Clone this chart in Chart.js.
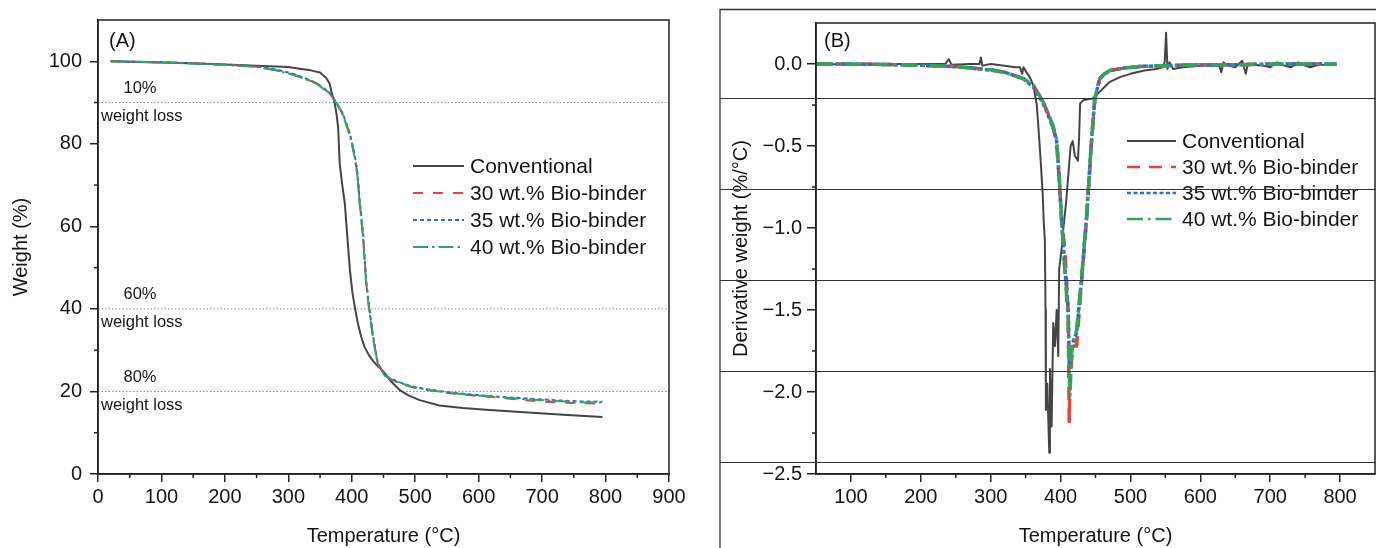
<!DOCTYPE html>
<html>
<head>
<meta charset="utf-8">
<script src="https://cdn.jsdelivr.net/npm/chart.js@4.4.1/dist/chart.umd.min.js"></script>
<style>
  html, body { margin: 0; padding: 0; background: #fff; }
  #wrap { position: relative; width: 1376px; height: 548px; overflow: hidden; }
  #tga { position: absolute; left: 0; top: 0; }
  #dtg { position: absolute; left: 700px; top: 0; }
</style>
</head>
<body>
<div id="wrap">
  <canvas id="tga" width="700" height="548"></canvas>
  <canvas id="dtg" width="676" height="548"></canvas>
</div>
<script>
const seriesNames = ['Conventional', '30 wt.% Bio-binder', '35 wt.% Bio-binder', '40 wt.% Bio-binder'];

// (A) weight vs temperature
const tgaConvTemp = [20, 50, 100, 150, 200, 250, 300, 318, 335, 350, 360, 365, 368, 373, 376, 378.5, 381, 385, 389, 393, 397, 401, 405, 410, 415, 420, 427, 434, 442, 450, 462, 475, 490, 507, 538, 575, 617, 660, 696, 740, 795];
const tgaConvWeight = [100, 99.9, 99.7, 99.5, 99.2, 98.9, 98.6, 98.2, 97.8, 97.3, 95.9, 94.6, 92.7, 89.9, 87.2, 83.9, 75.2, 70, 65.6, 57.5, 49.5, 44, 40.2, 36.2, 33.2, 30.8, 28.8, 27.3, 26, 24.8, 22.4, 20.4, 19.0, 17.9, 16.6, 16.0, 15.5, 15.1, 14.7, 14.3, 13.8];
const tgaBioTemp = [20, 50, 100, 150, 200, 250, 280, 300, 318, 344, 365, 376, 386, 397, 405, 409, 412.6, 417.8, 423, 428, 433.6, 441, 452, 463, 475.6, 493, 512, 538, 565, 600, 633, 665, 696, 730, 760, 795];
const tgaBio30 = [100, 99.9, 99.7, 99.5, 99.2, 98.7, 97.9, 97.2, 96.3, 94.7, 92.3, 89.9, 87.1, 82.3, 76.8, 72.5, 65.6, 57.7, 45.8, 39.4, 33.0, 26.7, 23.9, 22.8, 22.0, 21.1, 20.5, 19.9, 19.4, 18.9, 18.5, 18.0, 17.6, 17.3, 17.2, 17.0];
const tgaBio35 = [100, 99.9, 99.8, 99.5, 99.2, 98.8, 98.0, 97.3, 96.4, 94.8, 92.4, 90.0, 87.3, 82.5, 77.0, 72.8, 66.0, 58.2, 46.3, 39.8, 33.3, 26.9, 24.0, 23.0, 22.2, 21.3, 20.7, 20.1, 19.6, 19.1, 18.7, 18.4, 18.1, 17.8, 17.6, 17.5];
const tgaBio40 = [100, 99.9, 99.7, 99.4, 99.1, 98.6, 97.8, 97.0, 96.2, 94.6, 92.2, 89.8, 87.0, 82.0, 76.5, 72.2, 65.2, 57.3, 45.4, 39.1, 32.8, 26.6, 23.8, 22.9, 22.1, 21.2, 20.6, 20.0, 19.5, 19.0, 18.6, 18.2, 17.9, 17.6, 17.4, 17.3];
const lossLevels = [90, 40, 20];
const lossLabels = ['10%', '60%', '80%'];
const tgaTempTicks = [0, 100, 200, 300, 400, 500, 600, 700, 800, 900];
const tgaWeightTicks = [0, 20, 40, 60, 80, 100];

// (B) derivative weight vs temperature
const dtgConvTemp = [50, 100, 150, 200, 235, 240, 244, 270, 284, 286, 288, 300, 320, 335, 342, 345, 347, 351, 356, 361, 366, 369.5, 372, 374.5, 376, 377.5, 378.5, 379, 381, 383.8, 384.8, 387.2, 389.5, 392, 394.4, 396.7, 398, 401.5, 403.8, 408, 414.4, 417.4, 420.5, 424.8, 426.5, 428, 433, 446, 456, 470, 485, 500, 520, 537, 546, 549, 551, 553, 556, 561, 575, 600, 627, 630, 633, 640, 650, 660, 665, 668, 690, 700, 710, 720, 730, 740, 750, 757, 770, 795];
const dtgConvRate = [0, -0.003, 0, 0, 0, 0.03, -0.005, 0, 0, 0.04, -0.01, 0, -0.01, -0.02, -0.02, -0.06, -0.02, -0.05, -0.08, -0.13, -0.25, -0.46, -0.62, -0.8, -0.97, -1.07, -1.5, -2.11, -1.95, -2.37, -1.86, -2.21, -1.58, -1.72, -1.5, -1.78, -1.25, -1.13, -1.01, -0.84, -0.5, -0.47, -0.56, -0.59, -0.45, -0.24, -0.22, -0.21, -0.17, -0.11, -0.08, -0.06, -0.04, -0.03, -0.02, 0.01, 0.19, -0.03, 0.01, -0.03, -0.02, -0.01, -0.01, -0.05, 0.01, -0.01, -0.02, 0.02, -0.06, 0, -0.01, -0.02, 0.01, -0.01, -0.02, 0.01, -0.01, -0.02, -0.005, -0.005];
const dtgBioTemp = [50, 100, 150, 200, 250, 299, 320, 347, 361, 375, 382, 389.5, 394.4, 398, 401.5, 406, 411, 412.4, 413.4, 415.8, 419, 423, 426, 430, 434, 437, 440, 444.4, 449, 456, 463, 470.6, 490, 513.5, 550, 600, 650, 700, 750, 795];
const dtgBio30 = [0, 0, -0.003, -0.008, -0.015, -0.035, -0.05, -0.09, -0.13, -0.23, -0.3, -0.39, -0.48, -0.7, -0.96, -1.12, -1.52, -2.18, -1.95, -1.8, -1.72, -1.72, -1.55, -1.33, -1.12, -0.96, -0.76, -0.47, -0.22, -0.09, -0.06, -0.04, -0.025, -0.015, -0.01, -0.005, -0.005, 0, 0, 0];
const dtgBio35 = [0, 0, -0.003, -0.008, -0.016, -0.037, -0.05, -0.09, -0.14, -0.24, -0.31, -0.39, -0.47, -0.69, -0.95, -1.24, -1.5, -1.83, -1.76, -1.74, -1.68, -1.64, -1.5, -1.32, -1.1, -0.95, -0.75, -0.46, -0.21, -0.09, -0.06, -0.04, -0.025, -0.015, -0.01, -0.005, -0.005, 0, 0, 0];
const dtgBio40 = [0, 0, -0.003, -0.008, -0.015, -0.035, -0.05, -0.09, -0.13, -0.23, -0.3, -0.38, -0.46, -0.68, -0.95, -1.25, -1.56, -1.86, -2.02, -1.76, -1.69, -1.62, -1.48, -1.31, -1.1, -0.95, -0.75, -0.46, -0.21, -0.09, -0.06, -0.04, -0.025, -0.015, -0.01, -0.005, -0.005, 0, 0, 0];
const dtgTempTicks = [100, 200, 300, 400, 500, 600, 700, 800];
const dtgRateTicks = [-2.5, -2.0, -1.5, -1.0, -0.5, 0.0];

const INK = '#222222';
const FONT = "'Liberation Sans', Arial, sans-serif";
Chart.defaults.font.family = FONT;
Chart.defaults.color = '#151515';

const seriesColors = ['#454545', '#e8413c', '#2f6bd6', '#33a35c'];

function pts(xs, ys) {
  return xs.map((x, i) => ({ x: x, y: ys[i] }));
}

// frame, minor ticks, panel tag, legend, notes
const figurePlugin = {
  id: 'figure',
  afterDraw(chart, args, o) {
    const { ctx, chartArea: a, scales } = chart;
    ctx.save();
    ctx.strokeStyle = INK;
    ctx.lineWidth = 1.5;
    ctx.setLineDash([]);
    // minor ticks
    for (const [id, step, major] of o.minor) {
      const s = scales[id];
      for (let k = Math.ceil(s.min / step); k * step <= s.max + 1e-9; k++) {
        const v = k * step;
        if (Math.abs(v / major - Math.round(v / major)) < 1e-6) continue;
        if (Math.abs(v - s.min) < 1e-9 || Math.abs(v - s.max) < 1e-9) continue;
        const p = s.getPixelForValue(v);
        ctx.beginPath();
        if (s.isHorizontal()) { ctx.moveTo(p, a.bottom); ctx.lineTo(p, a.bottom + o.minorLen); }
        else { ctx.moveTo(a.left, p); ctx.lineTo(a.left - o.minorLen, p); }
        ctx.stroke();
      }
    }
    // plot frame
    ctx.strokeRect(a.left, a.top, a.right - a.left, a.bottom - a.top);

    // panel tag
    ctx.fillStyle = '#151515';
    ctx.font = '20px ' + FONT;
    ctx.textBaseline = 'middle';
    ctx.textAlign = 'left';
    ctx.fillText(o.tag.text, a.left + o.tag.dx, a.top + o.tag.dy);

    // notes on the weight-loss levels
    if (o.notes) {
      ctx.font = '16.5px ' + FONT;
      o.notes.forEach(n => {
        const py = scales.y.getPixelForValue(n.y);
        ctx.textAlign = 'center';
        ctx.fillText(n.top, a.left + 42, py - 14);
        ctx.textAlign = 'left';
        ctx.fillText(n.bottom, a.left + 3, py + 14);
      });
    }

    // legend
    const L = o.legend;
    ctx.font = '21px ' + FONT;
    ctx.textAlign = 'left';
    let row = 0;
    chart.data.datasets.forEach(ds => {
      if (!ds.label) return;
      const y = a.top + L.dy + row * L.gap;
      ctx.strokeStyle = ds.borderColor;
      ctx.lineWidth = Math.min(ds.borderWidth, 2.5);
      ctx.setLineDash(ds.borderDash || []);
      ctx.beginPath();
      ctx.moveTo(a.left + L.dx, y);
      ctx.lineTo(a.left + L.dx + L.lineLen, y);
      ctx.stroke();
      ctx.fillStyle = '#151515';
      ctx.fillText(ds.label, a.left + L.dx + L.lineLen + L.textGap, y + 1);
      row++;
    });
    ctx.setLineDash([]);

    // outer box and stray rules across panel B
    if (o.box) {
      ctx.strokeStyle = '#333';
      ctx.lineWidth = 1.3;
      ctx.beginPath();
      ctx.moveTo(o.box.left, chart.height);
      ctx.lineTo(o.box.left, o.box.top);
      ctx.lineTo(chart.width, o.box.top);
      ctx.stroke();
      ctx.lineWidth = 1.2;
      o.box.rules.forEach(v => {
        const py = Math.round(scales.y.getPixelForValue(v)) + 0.5;
        ctx.beginPath();
        ctx.moveTo(o.box.left, py);
        ctx.lineTo(chart.width, py);
        ctx.stroke();
      });
    }
    ctx.restore();
  }
};

function axisX(min, max, tickValues, height) {
  return {
    type: 'linear', min: min, max: max,
    afterBuildTicks: s => { s.ticks = tickValues.map(v => ({ value: v })); },
    ticks: { autoSkip: false, maxRotation: 0, font: { size: 20 }, padding: 3, color: '#151515' },
    grid: { display: true, drawOnChartArea: false, drawTicks: true, tickLength: 8, color: INK, lineWidth: 1.5 },
    border: { display: true, color: INK, width: 1.5 },
    title: { display: true, text: 'Temperature (°C)', font: { size: 20 }, color: '#151515', padding: { top: 0, bottom: 0 } },
    afterFit: s => { s.height = height; }
  };
}

function axisY(min, max, tickValues, width, title, titlePad, tickPad, tickLen, fmt) {
  return {
    type: 'linear', min: min, max: max,
    afterBuildTicks: s => { s.ticks = tickValues.map(v => ({ value: v })); },
    ticks: { autoSkip: false, font: { size: 20 }, padding: tickPad, color: '#151515', callback: fmt },
    grid: { display: true, drawOnChartArea: false, drawTicks: true, tickLength: tickLen, color: INK, lineWidth: 1.5 },
    border: { display: true, color: INK, width: 1.5 },
    title: { display: true, text: title, font: { size: 20 }, color: '#151515', padding: { top: titlePad, bottom: 0 } },
    afterFit: s => { s.width = width; }
  };
}

function curve(i, xs, ys, width, dash, order) {
  return {
    label: seriesNames[i], data: pts(xs, ys),
    borderColor: seriesColors[i], backgroundColor: seriesColors[i],
    borderWidth: width, borderDash: dash, order: order, fill: false
  };
}

const common = {
  responsive: false, animation: false, devicePixelRatio: 1,
  elements: { point: { radius: 0 }, line: { tension: 0, borderCapStyle: 'butt', borderJoinStyle: 'round' } },
  events: []
};

new Chart(document.getElementById('tga'), {
  type: 'line',
  data: {
    datasets: lossLevels.map(level => ({
      data: [{ x: 0, y: level }, { x: 900, y: level }],
      borderColor: '#8a8a8a', borderWidth: 1, borderDash: [1.5, 2], order: 9
    })).concat([
      curve(0, tgaConvTemp, tgaConvWeight, 2, [], 4),
      curve(1, tgaBioTemp, tgaBio30, 2, [10, 10], 3),
      curve(2, tgaBioTemp, tgaBio35, 2, [4, 3], 2),
      curve(3, tgaBioTemp, tgaBio40, 2, [15, 4, 2.5, 4], 1)
    ])
  },
  options: Object.assign({}, common, {
    layout: { padding: { left: 0, right: 31, top: 15, bottom: 0 } },
    plugins: {
      legend: { display: false }, tooltip: { enabled: false },
      figure: {
        minor: [['x', 50, 100], ['y', 10, 20]], minorLen: 4,
        tag: { text: '(A)', dx: 11, dy: 21 },
        notes: lossLevels.map((v, i) => ({ y: v, top: lossLabels[i], bottom: 'weight loss' })),
        legend: { dx: 315, dy: 146, gap: 27, lineLen: 51, textGap: 6 }
      }
    },
    scales: {
      x: axisX(0, 900, tgaTempTicks, 74),
      y: axisY(0, 110, tgaWeightTicks, 98, 'Weight (%)', 9, 8, 8)
    }
  }),
  plugins: [figurePlugin]
});

new Chart(document.getElementById('dtg'), {
  type: 'line',
  data: {
    datasets: [
      curve(0, dtgConvTemp, dtgConvRate, 2, [], 4),
      curve(1, dtgBioTemp, dtgBio30, 3.5, [13, 9], 3),
      curve(2, dtgBioTemp, dtgBio35, 3.5, [4, 2.5], 2),
      curve(3, dtgBioTemp, dtgBio40, 3.5, [16, 5, 2.5, 5], 1)
    ]
  },
  options: Object.assign({}, common, {
    layout: { padding: { left: 0, right: 1, top: 23, bottom: 0 } },
    plugins: {
      legend: { display: false }, tooltip: { enabled: false },
      figure: {
        minor: [['x', 50, 100], ['y', 0.25, 0.5]], minorLen: 4,
        tag: { text: '(B)', dx: 8, dy: 18.5 },
        legend: { dx: 311, dy: 118, gap: 26, lineLen: 49, textGap: 6 },
        box: { left: 20, top: 9.5, rules: [-0.21, -0.765, -1.315, -1.87, -2.425] }
      }
    },
    scales: {
      x: axisX(50, 850, dtgTempTicks, 74),
      y: axisY(-2.5, 0.25, dtgRateTicks, 116, 'Derivative weight (%/°C)', 29, 5, 9,
        v => (Math.abs(v) < 1e-9 ? '0.0' : (v < 0 ? '\u2212' : '') + Math.abs(v).toFixed(1)))
    }
  }),
  plugins: [figurePlugin]
});
</script>
</body>
</html>
